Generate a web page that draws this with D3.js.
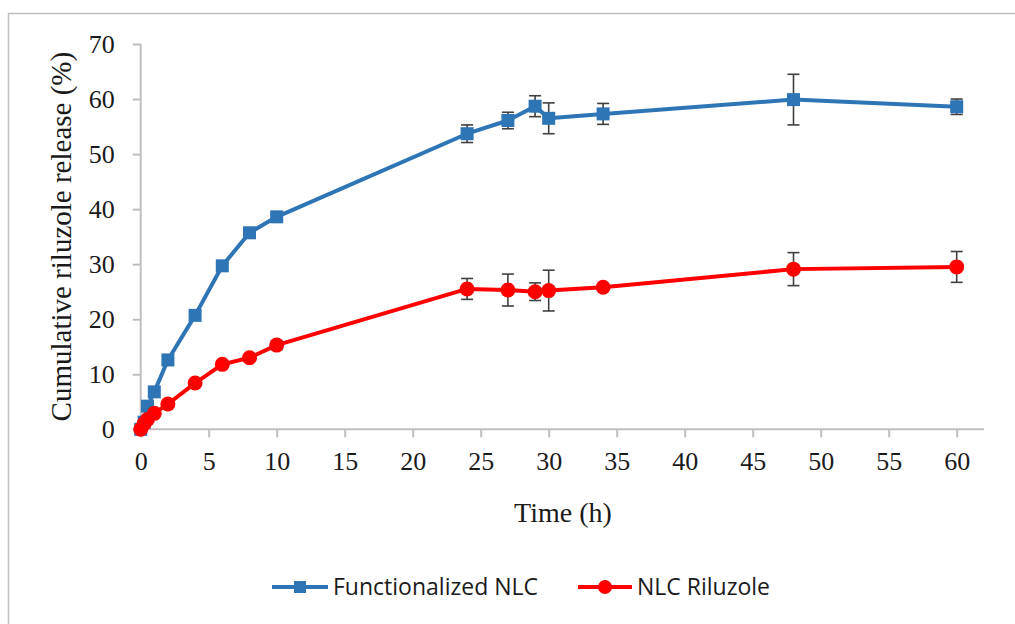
<!DOCTYPE html>
<html>
<head>
<meta charset="utf-8">
<script src="https://cdn.jsdelivr.net/npm/d3@7"></script>
<style>
  html, body { margin: 0; padding: 0; background: #fff; }
  svg { display: block; }
</style>
</head>
<body>
<svg id="chart" width="1015" height="624"></svg>
<script>
// Sampling times (h)
const times = [0, 0.25, 0.5, 1, 2, 4, 6, 8, 10, 24, 27, 29, 30, 34, 48, 60];

// Cumulative release (%) and standard deviations
const functionalizedNLC = [0, 1.3, 4.2, 6.8, 12.6, 20.7, 29.7, 35.7, 38.6, 53.7, 56.1, 58.7, 56.5, 57.3, 59.9, 58.6];
const functionalizedSD  = [0, 0, 0, 0, 0, 0, 0, 0.6, 0.6, 1.6, 1.5, 1.9, 2.8, 1.9, 4.6, 1.4];

const nlcRiluzole = [0, 1.0, 1.8, 2.9, 4.6, 8.4, 11.8, 13.0, 15.3, 25.5, 25.3, 25.0, 25.2, 25.8, 29.1, 29.5];
const nlcRiluzoleSD = [0, 0, 0, 0, 0, 0, 0, 0.5, 0.8, 1.9, 2.9, 1.6, 3.7, 0, 3.0, 2.8];

const xTicks = [0, 5, 10, 15, 20, 25, 30, 35, 40, 45, 50, 55, 60];
const yTicks = [0, 10, 20, 30, 40, 50, 60, 70];

const seriesNames = ["Functionalized NLC", "NLC Riluzole"];

const svg = d3.select("#chart");
const W = 1015, H = 624;

// Chart-area frame
svg.append("rect")
  .attr("x", 8.5).attr("y", 13.5)
  .attr("width", W + 10).attr("height", H + 10)
  .attr("fill", "#fff")
  .attr("stroke", "#bfbfbf").attr("stroke-width", 1.5);

const plot = { left: 140.7, right: 956.7, top: 44, bottom: 429.3 };

const x = d3.scaleLinear().domain([0, 60]).range([plot.left, plot.right]);
const y = d3.scaleLinear().domain([0, 70]).range([plot.bottom, plot.top]);

const axisColor = "#bfbfbf";
const textColor = "#1a1a1a";
const serif = "'Liberation Serif', 'DejaVu Serif', serif";

// X axis
const gx = svg.append("g")
  .attr("transform", `translate(0,${plot.bottom})`)
  .call(d3.axisBottom(x).tickValues(xTicks).tickSize(8).tickPadding(14).tickFormat(d3.format("d")));
gx.select(".domain").attr("stroke", axisColor).attr("stroke-width", 2)
  .attr("d", `M${plot.left},0H${x(62)}`);
gx.selectAll(".tick line").attr("stroke", axisColor).attr("stroke-width", 2);
gx.selectAll(".tick text")
  .attr("fill", textColor).style("font-family", serif).style("font-size", "26px");

// Y axis
const gy = svg.append("g")
  .attr("transform", `translate(${plot.left},0)`)
  .call(d3.axisLeft(y).tickValues(yTicks).tickSize(8).tickPadding(18).tickFormat(d3.format("d")));
gy.select(".domain").attr("stroke", axisColor).attr("stroke-width", 2)
  .attr("d", `M0,${plot.top}V${plot.bottom}`);
gy.selectAll(".tick line").attr("stroke", axisColor).attr("stroke-width", 2);
gy.selectAll(".tick text")
  .attr("fill", textColor).style("font-family", serif).style("font-size", "26px");

// Axis titles
svg.append("text")
  .attr("x", 563).attr("y", 522)
  .attr("text-anchor", "middle")
  .attr("fill", textColor)
  .style("font-family", serif).style("font-size", "28px")
  .text("Time (h)");

svg.append("text")
  .attr("transform", `translate(71,${(plot.top + plot.bottom) / 2}) rotate(-90)`)
  .attr("text-anchor", "middle")
  .attr("fill", textColor)
  .style("font-family", serif).style("font-size", "29px")
  .text("Cumulative riluzole release (%)");

const series = [
  { name: seriesNames[0], values: functionalizedNLC, sd: functionalizedSD, color: "#2E75B6", marker: "square" },
  { name: seriesNames[1], values: nlcRiluzole, sd: nlcRiluzoleSD, color: "#FF0000", marker: "circle" }
];

const line = d3.line().x(d => x(d.t)).y(d => y(d.v));

series.forEach(s => {
  const pts = times.map((t, i) => ({ t, v: s.values[i], e: s.sd[i] }));
  const g = svg.append("g");

  // error bars
  const eb = g.append("g").attr("stroke", "#404040").attr("stroke-width", 1.6);
  pts.filter(p => p.e > 0).forEach(p => {
    const cx = x(p.t);
    eb.append("line").attr("x1", cx).attr("x2", cx).attr("y1", y(p.v - p.e)).attr("y2", y(p.v + p.e));
    eb.append("line").attr("x1", cx - 6).attr("x2", cx + 6).attr("y1", y(p.v - p.e)).attr("y2", y(p.v - p.e));
    eb.append("line").attr("x1", cx - 6).attr("x2", cx + 6).attr("y1", y(p.v + p.e)).attr("y2", y(p.v + p.e));
  });

  g.append("path").datum(pts)
    .attr("d", line)
    .attr("fill", "none")
    .attr("stroke", s.color).attr("stroke-width", 4)
    .attr("stroke-linejoin", "round");

  if (s.marker === "square") {
    g.selectAll("rect.m").data(pts).join("rect")
      .attr("class", "m")
      .attr("x", d => x(d.t) - 6.5).attr("y", d => y(d.v) - 6.5)
      .attr("width", 13).attr("height", 13)
      .attr("fill", s.color);
  } else {
    g.selectAll("circle.m").data(pts).join("circle")
      .attr("class", "m")
      .attr("cx", d => x(d.t)).attr("cy", d => y(d.v))
      .attr("r", 7.5)
      .attr("fill", s.color);
  }
});

// Legend
const sans = "'Open Sans', 'Liberation Sans', sans-serif";
const legendY = 587;
const legendItems = [
  { x0: 272, x1: 328, tx: 333, s: series[0] },
  { x0: 578, x1: 632, tx: 637, s: series[1] }
];
legendItems.forEach(it => {
  const g = svg.append("g");
  g.append("line").attr("x1", it.x0).attr("x2", it.x1).attr("y1", legendY).attr("y2", legendY)
    .attr("stroke", it.s.color).attr("stroke-width", 4);
  const mx = (it.x0 + it.x1) / 2;
  if (it.s.marker === "square") {
    g.append("rect").attr("x", mx - 6).attr("y", legendY - 6).attr("width", 12).attr("height", 12).attr("fill", it.s.color);
  } else {
    g.append("circle").attr("cx", mx).attr("cy", legendY).attr("r", 7).attr("fill", it.s.color);
  }
  g.append("text").attr("x", it.tx).attr("y", legendY).attr("dy", "0.35em")
    .attr("fill", textColor)
    .style("font-family", sans).style("font-size", "23px")
    .text(it.s.name);
});
</script>
</body>
</html>
